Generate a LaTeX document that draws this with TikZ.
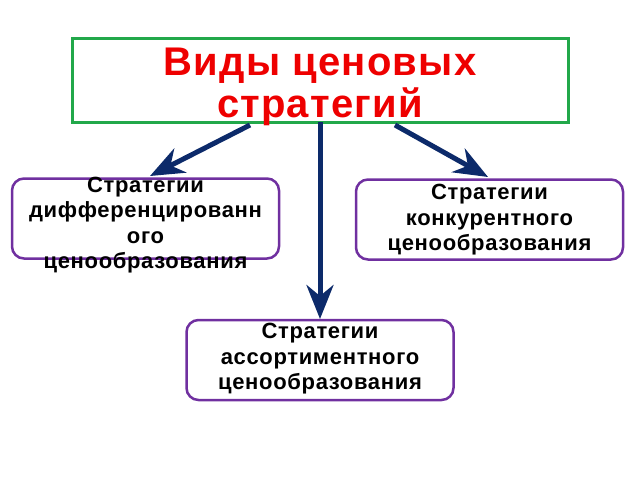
\documentclass[tikz,border=0pt]{standalone}
\usepackage{fontspec}
\setmainfont{Liberation Sans}
\usetikzlibrary{arrows.meta}
\definecolor{boxgreen}{HTML}{22A84A}
\definecolor{boxpurple}{HTML}{7030A0}
\definecolor{titlered}{HTML}{EE0000}
\definecolor{arrownavy}{HTML}{0C2A6A}
\tikzset{
  titlebox/.style={draw=boxgreen, line width=3pt, minimum width=496pt, minimum height=84pt, inner sep=0pt},
  subbox/.style={draw=boxpurple, line width=2.5pt, rounded corners=12pt, minimum width=267pt, minimum height=80pt, inner sep=0pt},
  subtext/.style={align=center, font=\fontsize{22}{25.5}\selectfont\bfseries\addfontfeature{LetterSpace=3}, text=black, inner sep=0pt},
  titletext/.style={align=center, font=\fontsize{40}{42}\selectfont\bfseries\addfontfeature{LetterSpace=3}, text=titlered, inner sep=0pt},
  bigarrow/.style={draw=arrownavy, line width=5pt, -{Stealth[length=34pt, width=27pt, inset=11pt]}}
}
\begin{document}
\begin{tikzpicture}[x=1pt, y=-1pt]
\useasboundingbox (0,0) rectangle (640,480);
\node[titlebox] (top) at (320,80) {};
\coordinate (sL) at (250,125);
\coordinate (sM) at (320,122);
\coordinate (sR) at (395,125);
\node[subbox] (left) at (145.5,218.5) {};
\node[subbox] (right) at (489.5,219.5) {};
\node[subbox] (bottom) at (320,360) {};
\coordinate (tL) at (150,176);
\coordinate (tR) at (488,177);
\coordinate (tM) at (320,319);
\draw[bigarrow] (sL) -- (tL);
\draw[bigarrow] (sR) -- (tR);
\draw[bigarrow] (sM) -- (tM);
\node[titletext] (title) at (320,87) {Виды ценовых\\стратегий};
\node[subtext] (lefttext) at (145.5,225) {Стратегии\\дифференцированн\\ого\\ценообразования};
\node[subtext] (righttext) at (489.5,220) {Стратегии\\конкурентного\\ценообразования};
\node[subtext] (bottomtext) at (320,359) {Стратегии\\ассортиментного\\ценообразования};
\end{tikzpicture}
\end{document}
